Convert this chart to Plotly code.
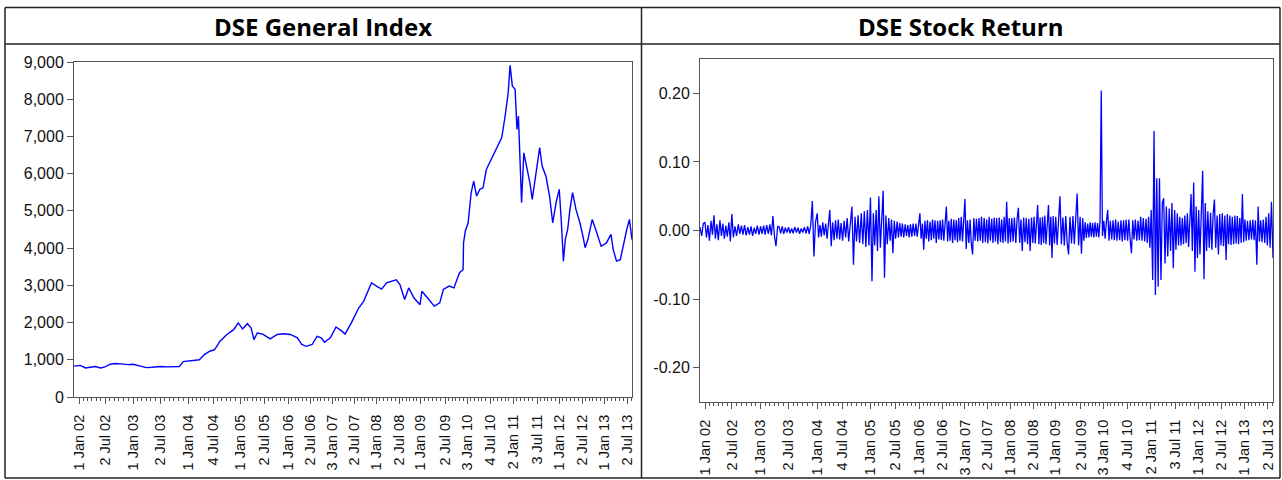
import numpy as np
import pandas as pd
import plotly.graph_objects as go

W, H = 1282, 480

# ---------------- axis labels (EViews observation-based axis) ----------------
tick_labels = ["1 Jan 02", "2 Jul 02", "1 Jan 03", "2 Jul 03", "1 Jan 04", "4 Jul 04",
               "1 Jan 05", "2 Jul 05", "1 Jan 06", "2 Jul 06", "3 Jan 07", "2 Jul 07",
               "1 Jan 08", "2 Jul 08", "1 Jan 09", "2 Jul 09", "3 Jan 10", "4 Jul 10",
               "2 Jan 11", "3 Jul 11", "1 Jan 12", "2 Jul 12", "1 Jan 13", "2 Jul 13"]
tick_dates = ["2002-01-01", "2002-07-02", "2003-01-01", "2003-07-02", "2004-01-01", "2004-07-04",
              "2005-01-01", "2005-07-02", "2006-01-01", "2006-07-02", "2007-01-03", "2007-07-02",
              "2008-01-01", "2008-07-02", "2009-01-01", "2009-07-02", "2010-01-03", "2010-07-04",
              "2011-01-02", "2011-07-03", "2012-01-01", "2012-07-02", "2013-01-01", "2013-07-02"]
# trading-day (observation) number of each labelled date
tick_obs = [25, 155, 295, 430, 570, 695, 830, 952, 1070, 1180, 1290, 1400,
            1510, 1625, 1730, 1855, 1965, 2080, 2195, 2315, 2425, 2540, 2650, 2765]
sample_start, sample_end, n_obs = "2001-12-01", "2013-08-08", 2790

# ---------------- DSE General Index ----------------
gi_dates = [
    "2001-12-01", "2002-01-10", "2002-02-15", "2002-03-20", "2002-04-25", "2002-06-01",
    "2002-07-02", "2002-08-05", "2002-09-10", "2002-10-15", "2002-12-01", "2003-01-01",
    "2003-02-15", "2003-04-01", "2003-05-10", "2003-07-02", "2003-08-20", "2003-10-01",
    "2003-11-05", "2003-12-01", "2003-12-25", "2004-02-05", "2004-03-25", "2004-05-01",
    "2004-06-10", "2004-07-15", "2004-08-20", "2004-10-05", "2004-11-20", "2004-12-20",
    "2005-01-20", "2005-02-25", "2005-03-25", "2005-04-15", "2005-05-10", "2005-06-20",
    "2005-08-15", "2005-10-10", "2005-11-25", "2006-01-20", "2006-03-20", "2006-04-25",
    "2006-06-01", "2006-07-20", "2006-08-30", "2006-10-05", "2006-11-01", "2006-12-20",
    "2007-02-05", "2007-03-25", "2007-04-20", "2007-06-10", "2007-08-10", "2007-09-20",
    "2007-11-01", "2007-11-25", "2008-01-05", "2008-02-15", "2008-03-25", "2008-05-05",
    "2008-06-10", "2008-07-10", "2008-08-20", "2008-09-25", "2008-11-10", "2009-01-01",
    "2009-01-15", "2009-02-25", "2009-04-15", "2009-05-25", "2009-06-20", "2009-08-05",
    "2009-09-15", "2009-11-01", "2009-12-01", "2009-12-05", "2009-12-20", "2010-01-12",
    "2010-02-05", "2010-02-25", "2010-03-20", "2010-04-15", "2010-05-10", "2010-06-05",
    "2010-07-15", "2010-08-25", "2010-10-05", "2010-11-01", "2010-11-25", "2010-12-10",
    "2010-12-28", "2011-01-18", "2011-02-01", "2011-02-12", "2011-02-25", "2011-03-08",
    "2011-03-25", "2011-04-15", "2011-05-10", "2011-05-28", "2011-06-20", "2011-07-05",
    "2011-07-25", "2011-08-15", "2011-09-15", "2011-10-15", "2011-11-10", "2011-12-10",
    "2012-01-03", "2012-01-20", "2012-02-05", "2012-02-20", "2012-03-10", "2012-03-28",
    "2012-04-18", "2012-05-15", "2012-06-15", "2012-07-10", "2012-07-28", "2012-08-20",
    "2012-09-25", "2012-10-28", "2012-12-08", "2013-01-20", "2013-02-25", "2013-03-15",
    "2013-04-10", "2013-05-10", "2013-06-05", "2013-06-30", "2013-07-20", "2013-08-08",
]
gi_values = [
    830, 850, 780, 800, 820, 780,
    810, 880, 900, 890, 870, 880,
    840, 790, 800, 820, 810, 810,
    820, 950, 960, 980, 1000, 1140,
    1230, 1270, 1500, 1680, 1810, 1990,
    1830, 1970, 1850, 1540, 1720, 1690,
    1560, 1680, 1700, 1680, 1590, 1410,
    1360, 1410, 1630, 1590, 1470, 1590,
    1880, 1770, 1690, 1990, 2390, 2570,
    2890, 3070, 2980, 2900, 3070, 3110,
    3150, 3020, 2620, 2930, 2660, 2480,
    2840, 2660, 2440, 2530, 2890, 2980,
    2930, 3340, 3420, 4140, 4460, 4680,
    5490, 5800, 5400, 5580, 5620, 6110,
    6380, 6650, 6970, 7550, 8180, 8910,
    8350, 8270, 7190, 7550, 6380, 5220,
    6560, 6200, 5760, 5310, 5850, 6290,
    6700, 6200, 5930, 5400, 4680, 5260,
    5580, 4680, 3650, 4230, 4500, 5040,
    5490, 5040, 4680, 4320, 4010, 4230,
    4770, 4460, 4050, 4140, 4370, 3960,
    3650, 3690, 4140, 4500, 4770, 4230,
]

# ---------------- DSE Stock Return (thousandths, ~3 readings per month) ----------------
ret_2001 = [5, -8, 10]
ret_2002 = [12, -10, 8, -15, 14, -6, 22, -12, 9, -14, 15, -8, 10, -12, 7, -9, 12, -16,
            24, -10, 6, -8, 9, -5, 7, -6, 8, -7, 5, -6, 6, -8, 4, -5, 7, -6]
ret_2003 = [6, -5, 7, -6, 8, -5, 9, -7, 21, -8, -23, 6, 5, -4, 6, -5, 4, -3,
            5, -4, 3, -4, 5, -3, 4, -5, 3, -3, 5, -4, 6, -5, 8, 43, -38, 12]
ret_2004 = [25, -10, 8, -9, 12, -7, 10, -12, 14, 30, -23, 12, -14, 15, -12, 16, -13, 11,
            -15, 14, -10, 18, -16, 13, 35, -50, 20, -16, 22, -18, 25, -20, 28, -24, 30, -22]
ret_2005 = [48, -74, 25, -22, 30, -30, 50, -25, 20, 58, -69, 22, -20, 18, -15, 16, -33, 14,
            -12, 13, -10, 11, -9, 10, -10, 9, -8, 8, -10, 9, -9, 10, -8, 10, -9, 11]
ret_2006 = [25, -12, 10, -28, 14, -12, 15, -16, 13, -14, 16, -12, 15, -18, 14, -13, 15, -14,
            16, -15, 13, 35, -16, 14, -15, 17, -18, 16, -14, 15, -17, 18, -15, 20, -16, 18]
ret_2007 = [46, -27, 15, -18, 16, -20, -35, 18, -15, 17, -16, 18, -15, 20, -18, 18, -17, 16,
            -19, 20, -15, 17, -18, 19, -16, 18, -20, 19, -17, 16, -18, 20, -16, 42, -19, 18]
ret_2008 = [-17, 18, -16, 19, -18, 17, 33, -18, 16, -30, 19, -17, 18, -20, 17, -30, 19, -18,
            20, -19, 18, 37, -20, 19, -21, 20, -18, 22, -20, 19, 37, -22, 20, -40, 21, -19]
ret_2009 = [20, -21, 18, 50, -20, 19, -22, 21, -18, -35, 20, -19, 21, -20, 18, 54, -22, 20,
            -34, 18, -15, 12, -11, 10, -10, 12, -9, 11, -10, 12, -9, 11, -10, 12, 204, -8]
ret_2010 = [14, -12, 13, 30, -15, 14, -13, 15, -14, 16, -15, 13, -14, 15, -16, 15, -14, 16,
            -15, 16, -14, -33, 15, -13, 16, -15, 14, -14, 20, -15, 18, -16, 17, -18, 20, -25]
ret_2011 = [30, -72, 145, -94, 76, -82, 76, -72, 40, 47, -48, 35, -38, 32, -30, 40, -55, 30,
            -28, 25, -22, 20, -22, 18, -20, 22, -18, 25, -24, 22, 53, -30, 70, -60, 35, -40]
ret_2012 = [30, -35, 28, 87, -71, 40, -30, 28, -25, 26, -28, 24, 45, -25, 22, -35, 24, -22,
            25, -23, 22, -43, 24, -20, 22, -21, 20, -20, 22, -19, 21, -20, 18, -18, 53, -17]
ret_2013 = [16, -15, 14, -14, 15, -13, 16, -14, 15, -50, 35, -16, 15, -17, 16, -18, 20, -22,
            25, -25, 42, -40]

assert len(gi_dates) == len(gi_values)

# ---------------- build plotted series ----------------
def day_number(dates):
    return pd.to_datetime(pd.Series(dates)).values.astype("datetime64[D]").astype(np.int64)

anchor_days = day_number([sample_start] + tick_dates + [sample_end])
anchor_obs = np.array([0] + tick_obs + [n_obs], dtype=float)

def to_obs(dates):
    return np.interp(day_number(dates), anchor_days, anchor_obs)

gi_x = to_obs(gi_dates)

ret_values = np.array(ret_2001 + ret_2002 + ret_2003 + ret_2004 + ret_2005 + ret_2006 + ret_2007
                      + ret_2008 + ret_2009 + ret_2010 + ret_2011 + ret_2012 + ret_2013) / 1000.0
ret_dates = pd.date_range(sample_start, sample_end, periods=len(ret_values))
ret_x = to_obs(ret_dates)

# monthly minor ticks between labelled dates
months = pd.date_range("2002-02-01", "2013-08-01", freq="MS")
months = [m for m in months if m.month not in (1, 7)]
minor_obs = to_obs(months)

# ---------------- layout helpers ----------------
def fx(px):
    return px / W

def fy(py):
    return 1 - py / H

BLUE = "#0000FF"
FRAME = "#555555"
TXT = "#111111"
FONT = "Liberation Sans, Arial, sans-serif"

fig = go.Figure()
fig.add_trace(go.Scatter(x=gi_x, y=gi_values, mode="lines",
                         line=dict(color=BLUE, width=1.4),
                         xaxis="x", yaxis="y", hoverinfo="skip", showlegend=False))
fig.add_trace(go.Scatter(x=ret_x, y=ret_values, mode="lines",
                         line=dict(color=BLUE, width=1.3),
                         xaxis="x2", yaxis="y2", hoverinfo="skip", showlegend=False))

xcommon = dict(range=[0, n_obs], tickmode="array", tickvals=tick_obs, ticktext=tick_labels,
               tickangle=-90, ticks="outside", ticklen=6, tickwidth=1, tickcolor=FRAME,
               showline=True, mirror=True, linecolor=FRAME, linewidth=1,
               showgrid=False, zeroline=False, automargin=False, ticklabelstandoff=5,
               tickfont=dict(family=FONT, size=14.5, color=TXT),
               minor=dict(tickmode="array", tickvals=list(minor_obs), ticks="outside",
                          ticklen=3, tickwidth=1, tickcolor=FRAME, showgrid=False))
ycommon = dict(ticks="outside", ticklen=6, tickwidth=1, tickcolor=FRAME,
               showline=True, mirror=True, linecolor=FRAME, linewidth=1,
               showgrid=False, zeroline=False, automargin=False,
               tickfont=dict(family=FONT, size=16, color=TXT))

fig.update_layout(
    template="none",
    width=W, height=H, autosize=False,
    margin=dict(l=0, r=0, t=0, b=0, pad=0),
    paper_bgcolor="white", plot_bgcolor="white",
    showlegend=False,
    xaxis=dict(domain=[fx(74), fx(632)], anchor="y", **xcommon),
    yaxis=dict(domain=[fy(397), fy(62)], anchor="x", range=[0, 9000],
               tickmode="array", tickvals=list(range(0, 9001, 1000)),
               ticktext=[f"{v:,}" for v in range(0, 9001, 1000)], **ycommon),
    xaxis2=dict(domain=[fx(700), fx(1273)], anchor="y2", **xcommon),
    yaxis2=dict(domain=[fy(402), fy(59)], anchor="x2", range=[-0.25, 0.25],
                tickmode="array", tickvals=[-0.2, -0.1, 0.0, 0.1, 0.2],
                ticktext=["-0.20", "-0.10", "0.00", "0.10", "0.20"], **ycommon),
)

# table-like frame around the two panels
line_style = dict(color="#222222", width=1.5)
segments = [
    (5, 7.5, 1280, 7.5), (5, 44, 1280, 44), (5, 478, 1280, 478),
    (5, 7.5, 5, 478), (641.5, 7.5, 641.5, 478), (1280, 7.5, 1280, 478),
]
for x0, y0, x1, y1 in segments:
    fig.add_shape(type="line", xref="paper", yref="paper",
                  x0=fx(x0), y0=fy(y0), x1=fx(x1), y1=fy(y1), line=line_style)

titles = [("DSE General Index", 323), ("DSE Stock Return", 961)]
for text, cx in titles:
    fig.add_annotation(text=f"<b>{text}</b>", xref="paper", yref="paper",
                       x=fx(cx), y=fy(26), xanchor="center", yanchor="middle",
                       showarrow=False,
                       font=dict(family="Open Sans, Lato, sans-serif", size=24, color="#000000"))

fig.write_html("out.html", include_plotlyjs=True,
               config={"displayModeBar": False, "responsive": False},
               post_script="document.body.style.margin='0';document.body.style.overflow='hidden';")
